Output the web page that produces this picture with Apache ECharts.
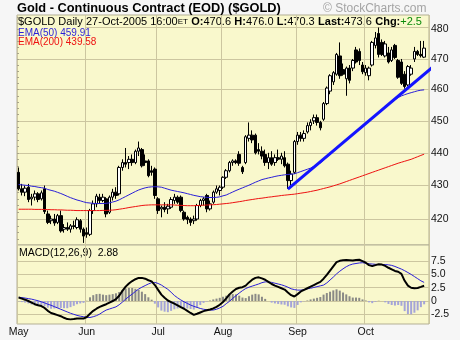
<!DOCTYPE html>
<html><head><meta charset="utf-8">
<script src="https://cdn.jsdelivr.net/npm/echarts@6/dist/echarts.min.js"></script>
<style>html,body{margin:0;padding:0;background:#f6f6f6;}#c{width:460px;height:340px;}</style>
</head><body><div id="c"></div>
<script>
// ---- trading days per month (2005) ----
const mayDays=[2,3,4,5,6,9,10,11,12,13,16,17,18,19,20,23,24,25,26,27,31];
const junDays=[1,2,3,6,7,8,9,10,13,14,15,16,17,20,21,22,23,24,27,28,29,30];
const julDays=[1,5,6,7,8,11,12,13,14,15,18,19,20,21,22,25,26,27,28,29];
const augDays=[1,2,3,4,5,8,9,10,11,12,15,16,17,18,19,22,23,24,25,26,29,30,31];
const sepDays=[1,2,6,7,8,9,12,13,14,15,16,19,20,21,22,23,26,27,28,29,30];
const octDays=[3,4,5,6,7,10,11,12,13,14,17,18,19,20,21,24,25,26,27];
const monthNames=['May','Jun','Jul','Aug','Sep','Oct'];
const monthNums=[5,6,7,8,9,10];

// ---- OHLC ----
const opens=[
434.0,429.0,428.0,429.5,426.0,426.5,427.5,426.0,429.0,421.5,419.5,420.0,419.0,421.0,417.0,417.5,417.0,418.0,417.5,419.5,417.0,
416.0,415.5,422.5,424.5,426.5,425.5,426.0,422.0,426.5,428.0,427.5,435.5,437.0,437.0,438.0,437.0,440.5,441.0,437.5,437.5,434.5,435.0,
426.0,423.0,423.5,423.0,423.5,425.5,426.5,426.5,422.0,420.5,420.0,419.5,420.0,424.0,425.5,427.0,423.0,425.0,428.0,428.5,
429.5,432.5,434.5,437.0,437.5,439.5,435.5,437.0,444.5,445.5,445.5,441.0,440.5,439.5,437.0,438.5,437.0,438.5,438.0,438.5,436.5,431.5,434.0,
443.5,445.5,444.5,446.5,448.5,450.0,451.0,449.5,450.5,455.5,459.5,462.5,465.0,471.0,466.5,463.5,467.0,467.0,473.0,472.5,468.0,
465.5,464.5,468.0,474.5,478.5,475.5,471.0,472.0,469.5,474.5,469.5,469.0,465.0,461.5,465.0,470.0,472.5,471.5,470.6];
const highs=[
435.5,430.5,430.0,430.5,427.5,428.5,428.0,428.5,430.0,422.5,421.0,421.5,421.5,422.5,418.5,419.0,418.5,419.5,420.5,420.0,417.5,
417.5,423.0,425.5,427.5,427.5,427.5,426.5,427.0,429.0,429.5,436.0,438.0,441.5,439.0,439.5,441.0,443.5,441.5,439.5,438.0,436.0,435.5,
426.5,424.0,425.0,424.5,426.5,427.5,427.0,427.0,422.5,421.0,420.5,421.0,424.5,426.0,426.5,427.5,425.5,428.5,430.0,430.0,
432.8,435.0,437.5,438.0,438.0,440.5,436.0,445.5,449.5,447.0,446.0,443.0,442.0,441.0,440.0,440.5,439.5,441.0,440.0,440.5,437.0,434.5,444.0,
446.5,446.5,447.0,449.5,450.5,452.0,452.0,450.0,456.0,461.0,465.0,466.0,472.0,475.5,468.5,467.5,468.0,470.0,474.0,473.5,469.0,
468.0,467.5,476.0,479.0,480.5,476.5,476.0,474.0,474.0,475.0,470.0,470.0,466.0,468.0,468.0,474.0,473.0,476.0,476.0];
const lows=[
428.5,427.0,426.8,425.0,424.0,425.5,425.0,425.5,421.5,418.5,418.5,418.0,418.5,416.0,416.0,416.5,416.0,417.0,417.0,416.0,413.0,
414.5,415.0,421.5,423.5,424.5,425.0,420.5,421.5,425.5,426.0,427.0,434.5,435.5,435.0,436.0,436.5,439.0,435.5,436.0,432.5,433.0,426.0,
421.5,420.5,422.0,421.5,423.0,424.5,424.5,422.0,419.5,418.5,418.0,418.5,419.5,423.5,424.0,422.0,422.5,424.5,427.5,427.0,
429.0,432.0,434.0,436.0,436.5,436.0,433.5,436.5,443.5,443.0,439.5,439.5,438.0,436.0,435.0,436.0,436.0,437.5,436.5,435.5,429.0,430.0,433.5,
442.5,443.5,443.5,446.0,447.0,449.0,448.5,447.0,450.0,455.0,458.5,461.5,464.5,463.5,464.5,458.0,462.0,466.0,468.5,468.0,465.0,
464.5,463.0,467.5,473.5,470.5,471.0,470.5,468.5,469.0,470.0,463.5,461.5,460.3,461.0,464.5,469.0,471.0,470.5,470.3];
const closes=[
429.0,428.0,429.2,425.8,426.5,427.5,425.8,427.8,422.2,419.0,420.0,418.8,421.0,416.5,417.5,417.0,418.0,417.8,419.8,417.0,415.0,
415.5,422.5,424.5,426.8,425.5,426.5,421.5,426.5,428.0,427.0,435.5,437.0,436.5,438.0,437.0,440.5,441.5,436.0,437.0,433.0,434.0,427.0,
422.5,423.5,422.8,423.8,425.8,426.5,425.0,422.5,420.0,419.8,419.0,420.0,424.0,425.5,426.0,423.0,424.5,428.0,429.0,429.5,
432.5,434.5,437.0,437.5,437.0,436.8,434.2,445.0,445.5,444.0,440.0,440.5,439.0,437.0,438.5,436.5,438.5,438.0,439.0,436.0,431.5,433.5,443.5,
445.5,444.5,446.0,448.5,449.5,451.0,449.5,447.8,455.5,460.5,464.5,465.5,471.5,464.5,465.0,467.0,463.0,469.5,469.0,469.5,465.8,
467.0,467.0,475.5,477.0,471.5,471.5,475.0,469.0,473.0,470.5,464.0,462.0,461.0,467.5,467.0,472.5,471.5,471.1,473.6];

// ---- moving averages ----
const ema50=[
430.3,430.2,430.1,430.0,429.8,429.7,429.5,429.35,429.2,428.8,428.55,428.3,427.95,427.6,427.2,426.75,426.35,426.0,425.65,425.4,425.1,
424.85,424.75,424.65,424.6,424.6,424.6,424.65,424.8,425.05,425.3,425.7,426.2,426.7,427.2,427.7,428.2,428.65,429.0,429.3,429.5,429.6,429.65,
429.6,429.5,429.2,428.9,428.6,428.4,428.2,428.0,427.8,427.55,427.3,427.05,426.85,426.65,426.55,426.45,426.4,426.4,426.45,426.6,
426.9,427.15,427.6,428.05,428.5,428.9,429.3,429.7,430.1,430.55,431.0,431.4,431.8,432.05,432.3,432.5,432.75,432.95,433.1,433.25,433.35,433.45,433.55,
433.9,434.25,434.6,434.95,435.3,435.8,436.3,436.85,437.7,438.6,439.5,440.35,441.25,442.1,443.0,443.85,444.7,445.55,446.4,447.25,448.1,
448.95,449.8,450.7,451.6,452.5,453.35,454.2,455.05,455.9,456.7,457.45,457.95,458.35,458.7,459.0,459.3,459.6,459.8,459.91];
const ema200=[
422.9,422.9,422.9,422.9,422.9,422.85,422.85,422.85,422.8,422.8,422.75,422.75,422.7,422.7,422.65,422.6,422.6,422.55,422.5,422.5,422.5,
422.5,422.5,422.5,422.5,422.5,422.55,422.55,422.6,422.65,422.75,422.9,423.05,423.2,423.4,423.55,423.7,423.85,424.0,424.1,424.15,424.2,424.2,
424.2,424.2,424.2,424.2,424.2,424.15,424.1,424.05,424.0,423.95,423.95,423.95,424.0,424.05,424.1,424.15,424.2,424.25,424.3,424.4,
424.5,424.6,424.7,424.85,425.0,425.15,425.3,425.5,425.65,425.8,425.95,426.1,426.2,426.35,426.5,426.6,426.75,426.85,427.0,427.1,427.2,427.3,427.4,
427.55,427.7,427.85,428.0,428.2,428.4,428.6,428.85,429.1,429.35,429.6,429.9,430.2,430.5,430.85,431.2,431.55,431.9,432.25,432.6,432.95,
433.3,433.65,434.0,434.35,434.7,435.05,435.4,435.75,436.1,436.45,436.8,437.1,437.4,437.7,438.0,438.4,438.8,439.2,439.58];

// ---- MACD(12,26,9) ----
const macdLine=[
0.65,0.45,0.25,0.0,-0.3,-0.6,-0.8,-0.95,-1.3,-1.85,-2.25,-2.45,-2.65,-2.85,-3.15,-3.4,-3.45,-3.4,-3.3,-3.3,-3.3,
-3.0,-2.4,-1.85,-1.45,-1.1,-0.85,-0.6,-0.3,0.0,0.35,1.0,1.9,2.7,3.3,3.75,4.1,4.35,4.35,4.2,3.9,3.7,3.0,
2.1,1.2,0.6,0.1,-0.2,-0.5,-0.8,-1.15,-1.45,-1.85,-2.25,-2.6,-2.4,-2.15,-1.9,-1.75,-1.6,-1.4,-1.1,-0.7,
-0.2,0.5,1.25,1.8,2.25,2.5,2.6,2.9,3.5,4.0,4.35,4.45,4.25,4.0,3.6,3.2,2.9,2.65,2.4,2.15,1.6,1.1,0.85,
1.3,1.8,2.1,2.4,2.7,3.0,3.3,3.6,4.2,4.9,5.7,6.5,7.3,7.55,7.65,7.7,7.65,7.6,7.7,7.75,7.5,
7.2,6.75,6.55,6.75,6.9,6.85,6.6,6.25,5.95,5.65,5.5,5.1,3.8,2.9,2.5,2.4,2.45,2.65,2.88];
const signalLine=[
0.7,0.65,0.55,0.45,0.35,0.2,0.05,-0.15,-0.35,-0.6,-0.8,-1.05,-1.3,-1.55,-1.8,-2.05,-2.3,-2.5,-2.7,-2.85,-2.95,
-3.05,-3.1,-2.95,-2.75,-2.45,-2.05,-1.7,-1.5,-1.3,-1.1,-0.7,-0.2,0.35,0.85,1.3,1.8,2.25,2.6,2.9,3.2,3.45,3.5,
3.3,3.0,2.6,2.2,1.65,1.05,0.6,0.2,-0.15,-0.45,-0.75,-1.0,-1.2,-1.4,-1.55,-1.65,-1.7,-1.7,-1.55,-1.3,
-1.0,-0.5,-0.05,0.5,1.0,1.5,1.95,2.35,2.6,2.8,3.0,3.2,3.45,3.6,3.6,3.5,3.35,3.2,3.05,2.85,2.6,2.3,2.15,
2.05,2.05,2.15,2.3,2.4,2.55,2.7,2.85,3.0,3.4,3.95,4.5,5.1,5.6,6.05,6.45,6.75,6.95,7.05,7.15,7.2,
7.1,7.0,6.95,6.9,6.85,6.85,6.85,6.8,6.7,6.5,6.25,6.0,5.7,5.35,5.0,4.6,4.2,3.8,3.5];
const histValues=[
-0.05,-0.2,-0.3,-0.45,-0.65,-0.8,-0.85,-0.8,-0.95,-1.25,-1.45,-1.4,-1.35,-1.3,-1.35,-1.35,-1.15,-0.9,-0.6,-0.45,-0.35,
0.05,0.7,1.1,1.3,1.35,1.2,1.1,1.2,1.3,1.45,1.7,2.1,2.35,2.45,2.45,2.3,2.1,1.75,1.3,0.7,0.25,-0.5,
-1.2,-1.8,-2.0,-2.1,-1.85,-1.55,-1.4,-1.35,-1.3,-1.4,-1.5,-1.6,-1.2,-0.75,-0.35,-0.1,0.1,0.3,0.45,0.6,
0.8,1.0,1.3,1.3,1.25,1.0,0.65,0.55,0.9,1.2,1.35,1.25,0.8,0.4,0.0,-0.3,-0.45,-0.55,-0.65,-0.7,-1.0,-1.2,-1.3,
-0.75,-0.25,-0.05,0.1,0.3,0.45,0.6,0.75,1.2,1.5,1.75,2.0,2.2,1.95,1.6,1.25,0.9,0.65,0.65,0.6,0.3,
0.1,-0.25,-0.4,-0.15,0.05,0.0,-0.25,-0.55,-0.75,-0.85,-0.75,-0.9,-1.9,-2.45,-2.5,-2.2,-1.75,-1.15,-0.62];

// ---- axis ticks / annotations ----
const priceLabels=[420,430,440,450,460,470,480];
const priceGridVals=[420,430,440,450,460,470];
const priceMinorTicks=[414,416,418,420,422,424,426,428,430,432,434,436,438,440,442,444,446,448,450,452,454,456,458,460,462,464,466,468,470,472,474,476,478,480,482,484];
const macdTicks=[-2.5,0,2.5,5,7.5];
const trendStart=[83.5,428.9];   // [bar slot, price]
const trendEnd=[136.6,475.0];

// ---- build ----
const monthDays=[mayDays,junDays,julDays,augDays,sepDays,octDays];
const dates=[]; const monthStart={};
monthDays.forEach((days,m)=>{days.forEach((d,k)=>{if(k===0)monthStart[dates.length]=monthNames[m];dates.push('2005-'+String(monthNums[m]).padStart(2,'0')+'-'+String(d).padStart(2,'0'));});});
const cats=dates.concat(['']);
const candles=dates.map((d,i)=>[opens[i],closes[i],lows[i],highs[i]]);
const isStart=(i)=>monthStart[i]!==undefined;

const FONT='"Liberation Sans", Arial, sans-serif';
const PANEL='#f9f8cc', GRIDC='#ccc6a0', BORDER='#b3af95';
const L=17, R=31;

const chart=echarts.init(document.getElementById('c'),null,{renderer:'canvas'});
chart.setOption({
  animation:false,
  backgroundColor:'#f6f6f6',
  textStyle:{fontFamily:FONT},
  grid:[
    {left:L,right:R,top:15,height:230,show:true,backgroundColor:PANEL,borderColor:BORDER,borderWidth:1},
    {left:L,right:R,top:245,height:79,show:true,backgroundColor:PANEL,borderColor:BORDER,borderWidth:1}
  ],
  xAxis:[
    {gridIndex:0,type:'category',data:cats,boundaryGap:true,axisLine:{show:false},axisTick:{show:false},axisLabel:{show:false},
     splitLine:{show:true,interval:(i)=>isStart(i),lineStyle:{color:GRIDC,width:1}}},
    {gridIndex:1,type:'category',data:cats,boundaryGap:true,axisLine:{show:false},axisTick:{show:false},
     axisLabel:{show:true,interval:(i)=>isStart(i),formatter:(v,i)=>monthStart[i]||'',color:'#111',fontSize:10.5,margin:3,fontFamily:FONT},
     splitLine:{show:true,interval:(i)=>isStart(i),lineStyle:{color:GRIDC,width:1}}},
    {gridIndex:0,type:'value',min:0,max:127,show:false}
  ],
  yAxis:[
    {gridIndex:0,type:'log',logBase:10,min:412.4,max:484.75,position:'right',
     axisLine:{show:false},axisTick:{show:false,customValues:priceGridVals},
     axisLabel:{customValues:priceLabels,margin:2,color:'#111',fontSize:10.5,fontFamily:FONT,formatter:(v)=>String(Math.round(v))},
     splitLine:{show:true,lineStyle:{color:GRIDC,width:1}}},
    {gridIndex:1,type:'value',min:-4.32,max:10.53,position:'right',
     axisLine:{show:false},axisTick:{show:false,customValues:macdTicks},
     axisLabel:{customValues:macdTicks,margin:2,color:'#111',fontSize:10.5,fontFamily:FONT,formatter:(v)=>v===0?'0':v.toFixed(1)},
     splitLine:{show:true,lineStyle:{color:GRIDC,width:1}}},
    {gridIndex:0,type:'log',logBase:10,min:412.4,max:484.75,position:'left',
     axisLine:{show:false},axisTick:{show:true,inside:true,length:2,customValues:priceMinorTicks,lineStyle:{color:'#a8a48a'}},
     axisLabel:{show:false},splitLine:{show:false}}
  ],
  series:[
    {type:'candlestick',xAxisIndex:0,yAxisIndex:0,data:candles,barWidth:3,
     itemStyle:{color:'#ffffff',color0:'#000000',borderColor:'#000000',borderColor0:'#000000',borderWidth:1},z:3},
    {type:'line',xAxisIndex:0,yAxisIndex:0,data:ema200,symbol:'none',lineStyle:{color:'#ee1111',width:1},z:4},
    {type:'line',xAxisIndex:0,yAxisIndex:0,data:ema50,symbol:'none',lineStyle:{color:'#2a1fd8',width:1},z:4},
    {type:'line',xAxisIndex:2,yAxisIndex:0,data:[trendStart,trendEnd],symbol:'none',clip:false,lineStyle:{color:'#1414ff',width:3},z:6},
    {type:'bar',xAxisIndex:1,yAxisIndex:1,data:histValues,barWidth:2,
     itemStyle:{color:(p)=>p.value>=0?'#8a8a86':'#a4a4d8'},z:2},
    {type:'line',xAxisIndex:1,yAxisIndex:1,data:signalLine,symbol:'none',lineStyle:{color:'#2a1fd8',width:1},z:4},
    {type:'line',xAxisIndex:1,yAxisIndex:1,data:macdLine,symbol:'none',lineStyle:{color:'#000000',width:2},z:5}
  ],
  graphic:[
    {type:'text',x:17,y:2,style:{text:'Gold - Continuous Contract (EOD) ($GOLD)',font:'bold 12.8px '+FONT,fill:'#000',verticalAlign:'top'}},
    {type:'text',x:323,y:3,style:{text:'© StockCharts.com',font:'12px '+FONT,fill:'#a4a4a4',verticalAlign:'top'}},
    {type:'line',shape:{x1:85,y1:27.5,x2:429,y2:27.5},style:{stroke:GRIDC,lineWidth:1}},
    {type:'text',x:18,y:16,style:{text:'$GOLD Daily',font:'11px '+FONT,fill:'#000',verticalAlign:'top'}},
    {type:'text',x:86,y:16,style:{
      text:'{n|27-Oct-2005 16:00}{s|ET} {b|O:}{n|470.6} {b|H:}{n|476.0} {b|L:}{n|470.3} {b|Last:}{n|473.6} {b|Chg:}{g|+2.5}',
      verticalAlign:'top',
      rich:{n:{font:'11px '+FONT,fill:'#000'},b:{font:'bold 11px '+FONT,fill:'#000'},s:{font:'8px '+FONT,fill:'#000'},g:{font:'11px '+FONT,fill:'#0a8a0a'}}}},
    {type:'text',x:18,y:28,style:{text:'EMA(50) 459.91',font:'10px '+FONT,fill:'#2a1fd8',verticalAlign:'top'}},
    {type:'text',x:18,y:37,style:{text:'EMA(200) 439.58',font:'10px '+FONT,fill:'#ee1111',verticalAlign:'top'}},
    {type:'text',x:19,y:247.5,style:{text:'MACD(12,26,9)  2.88',font:'10.5px '+FONT,fill:'#000',verticalAlign:'top'}}
  ]
});
</script></body></html>
